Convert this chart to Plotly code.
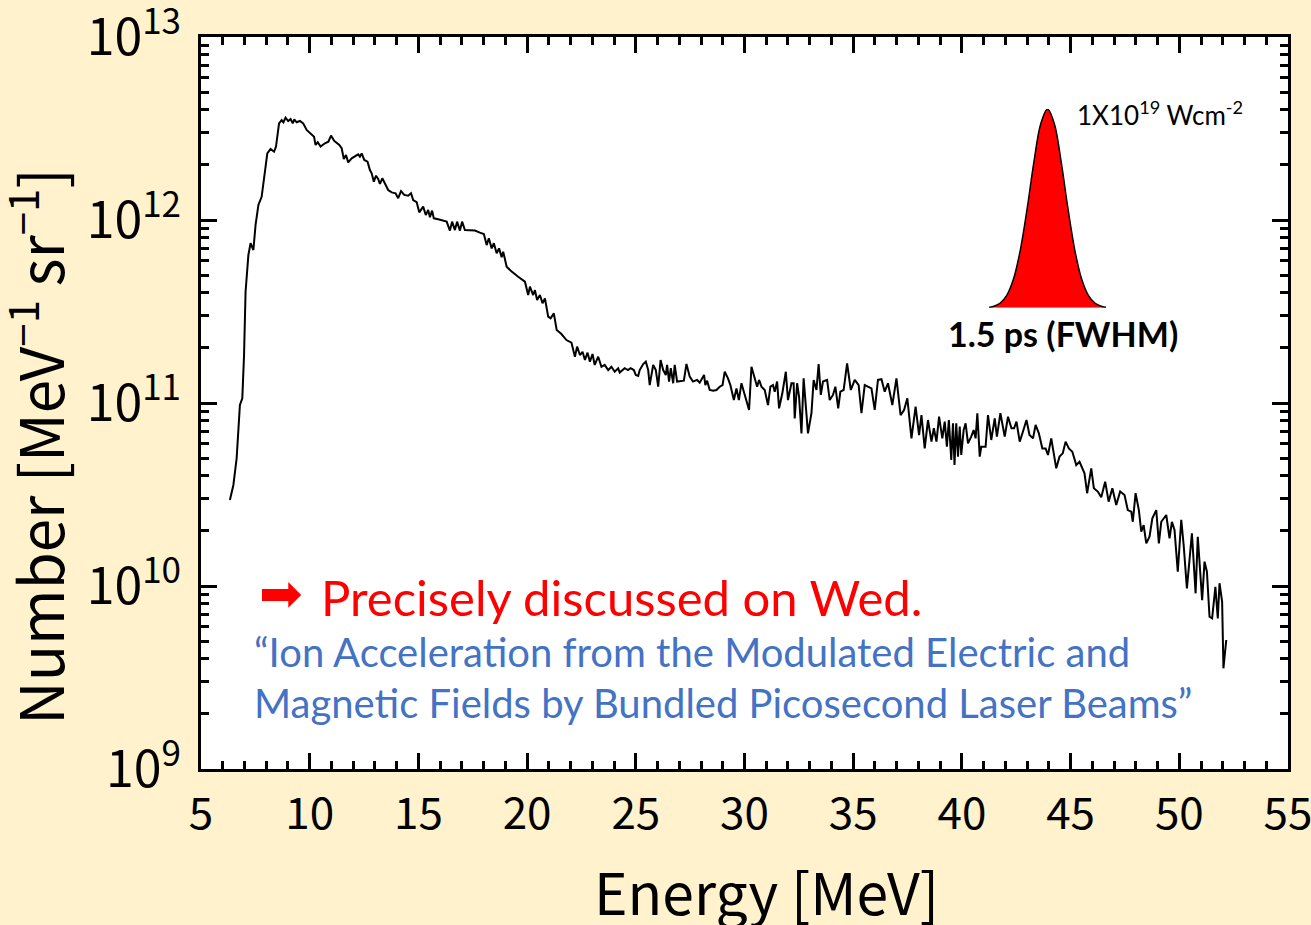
import plotly.graph_objects as go

# ---- spectrum data ----
energy_mev = [
    6.33, 6.49, 6.64, 6.79, 6.90, 6.98, 7.05, 7.18, 7.28, 7.41, 7.51, 7.64, 7.79, 7.91, 8.05, 8.20, 8.36, 8.45,
    8.59, 8.71, 8.79, 8.89, 9.01, 9.12, 9.22, 9.29, 9.40, 9.55, 9.70, 9.86, 10.06, 10.20, 10.27, 10.37, 10.50,
    10.70, 10.86, 10.98, 11.13, 11.36, 11.47, 11.57, 11.67, 11.77, 11.93, 12.11, 12.23, 12.31, 12.39, 12.51,
    12.66, 12.77, 12.85, 12.95, 13.05, 13.15, 13.23, 13.34, 13.46, 13.61, 13.77, 13.95, 14.07, 14.20, 14.35,
    14.53, 14.66, 14.76, 14.92, 15.04, 15.22, 15.34, 15.45, 15.53, 15.63, 15.71, 15.91, 16.14, 16.30, 16.45,
    16.55, 16.68, 16.78, 16.91, 17.01, 17.14, 17.37, 17.60, 17.83, 18.01, 18.14, 18.24, 18.37, 18.47, 18.60,
    18.71, 18.83, 18.90, 19.06, 19.29, 19.59, 19.90, 20.05, 20.13, 20.28, 20.36, 20.46, 20.59, 20.71, 20.82,
    20.97, 21.08, 21.23, 21.36, 21.58, 21.81, 22.04, 22.20, 22.30, 22.43, 22.55, 22.66, 22.78, 22.89, 23.01,
    23.11, 23.27, 23.42, 23.57, 23.73, 23.88, 24.03, 24.19, 24.26, 24.49, 24.64, 24.76, 24.91, 25.00, 25.11,
    25.18, 25.34, 25.46, 25.57, 25.64, 25.80, 25.92, 26.03, 26.14, 26.26, 26.38, 26.44, 26.53, 26.61, 26.72,
    26.79, 26.90, 27.10, 27.21, 27.33, 27.48, 27.63, 27.82, 27.94, 28.07, 28.14, 28.20, 28.28, 28.40, 28.56,
    28.71, 28.86, 28.99, 29.09, 29.24, 29.35, 29.51, 29.63, 29.74, 29.86, 29.97, 30.09, 30.21, 30.32, 30.47,
    30.58, 30.67, 30.78, 30.93, 31.01, 31.08, 31.19, 31.31, 31.39, 31.50, 31.59, 31.74, 31.90, 32.00, 32.16,
    32.26, 32.31, 32.42, 32.51, 32.62, 32.72, 32.92, 33.08, 33.18, 33.31, 33.41, 33.51, 33.61, 33.80, 33.92,
    34.07, 34.18, 34.31, 34.41, 34.56, 34.72, 34.89, 35.07, 35.25, 35.38, 35.53, 35.68, 35.84, 35.99, 36.14,
    36.30, 36.45, 36.60, 36.80, 36.99, 37.18, 37.34, 37.49, 37.68, 37.87, 38.03, 38.14, 38.29, 38.44, 38.60,
    38.71, 38.83, 38.95, 39.10, 39.21, 39.31, 39.40, 39.51, 39.59, 39.66, 39.74, 39.82, 39.90, 39.97, 40.08,
    40.17, 40.28, 40.43, 40.54, 40.63, 40.71, 40.82, 40.89, 41.09, 41.20, 41.35, 41.51, 41.61, 41.77, 41.97,
    42.12, 42.28, 42.40, 42.51, 42.66, 42.81, 42.97, 43.11, 43.27, 43.39, 43.54, 43.70, 43.85, 43.96, 44.11,
    44.34, 44.49, 44.64, 44.77, 44.92, 45.08, 45.26, 45.41, 45.64, 45.76, 45.95, 46.07, 46.25, 46.41, 46.59,
    46.75, 46.92, 47.10, 47.28, 47.48, 47.63, 47.79, 47.86, 47.99, 48.14, 48.25, 48.36, 48.48, 48.63, 48.76,
    48.94, 49.06, 49.17, 49.40, 49.55, 49.66, 49.78, 49.93, 50.09, 50.20, 50.35, 50.58, 50.75, 50.85, 51.05,
    51.16, 51.27, 51.39, 51.51, 51.66, 51.77, 51.85, 51.97, 52.03, 52.16,
]

log10_number = [
    10.470, 10.552, 10.698, 10.989, 11.026, 11.262, 11.608, 11.809, 11.873, 11.836, 11.973, 12.082, 12.127,
    12.246, 12.364, 12.388, 12.373, 12.401, 12.528, 12.546, 12.534, 12.559, 12.541, 12.552, 12.528, 12.550,
    12.534, 12.541, 12.528, 12.492, 12.468, 12.455, 12.410, 12.425, 12.401, 12.419, 12.428, 12.461, 12.432,
    12.410, 12.392, 12.333, 12.355, 12.315, 12.337, 12.351, 12.359, 12.346, 12.364, 12.328, 12.319, 12.273,
    12.255, 12.209, 12.242, 12.224, 12.197, 12.228, 12.195, 12.164, 12.151, 12.146, 12.119, 12.158, 12.137,
    12.133, 12.146, 12.109, 12.097, 12.042, 12.073, 12.027, 12.055, 12.015, 12.051, 12.009, 12.004, 11.996,
    11.991, 11.942, 11.991, 11.945, 11.991, 11.942, 11.991, 11.945, 11.945, 11.942, 11.931, 11.923, 11.863,
    11.900, 11.845, 11.873, 11.818, 11.845, 11.796, 11.827, 11.745, 11.718, 11.690, 11.663, 11.590, 11.636,
    11.590, 11.617, 11.563, 11.590, 11.545, 11.572, 11.472, 11.463, 11.490, 11.399, 11.377, 11.344, 11.330,
    11.253, 11.308, 11.262, 11.280, 11.235, 11.275, 11.226, 11.268, 11.208, 11.253, 11.198, 11.208, 11.180,
    11.198, 11.171, 11.190, 11.166, 11.190, 11.180, 11.190, 11.180, 11.153, 11.148, 11.180, 11.213, 11.226,
    11.180, 11.098, 11.208, 11.180, 11.089, 11.235, 11.180, 11.153, 11.208, 11.117, 11.190, 11.108, 11.208,
    11.117, 11.122, 11.122, 11.213, 11.144, 11.117, 11.126, 11.111, 11.135, 11.153, 11.098, 11.122, 11.071,
    11.067, 11.071, 11.089, 11.098, 11.171, 11.135, 11.098, 11.016, 11.080, 11.016, 11.108, 11.062, 11.007,
    10.962, 11.198, 11.135, 11.089, 11.126, 11.089, 11.071, 11.034, 10.989, 11.089, 11.098, 11.062, 11.117,
    10.971, 11.053, 11.171, 11.016, 11.108, 11.108, 10.916, 11.108, 11.034, 10.834, 11.135, 10.834, 10.944,
    11.126, 11.071, 11.213, 11.044, 11.117, 11.126, 11.016, 11.044, 11.089, 10.971, 11.062, 11.071, 11.217,
    11.071, 11.126, 11.098, 10.944, 11.098, 11.089, 11.080, 10.962, 11.126, 11.130, 11.062, 11.108, 10.989,
    11.135, 10.934, 10.962, 11.026, 10.807, 10.980, 10.825, 10.934, 10.752, 10.907, 10.789, 10.862, 10.789,
    10.925, 10.807, 10.898, 10.761, 10.907, 10.689, 10.889, 10.661, 10.889, 10.707, 10.871, 10.716, 10.852,
    10.889, 10.780, 10.816, 10.852, 10.807, 10.944, 10.707, 10.761, 10.761, 10.934, 10.798, 10.916, 10.816,
    10.944, 10.816, 10.925, 10.862, 10.862, 10.898, 10.789, 10.844, 10.907, 10.825, 10.807, 10.880, 10.834,
    10.752, 10.752, 10.716, 10.807, 10.643, 10.707, 10.725, 10.789, 10.752, 10.734, 10.661, 10.679, 10.616,
    10.507, 10.643, 10.534, 10.516, 10.485, 10.570, 10.461, 10.534, 10.443, 10.516, 10.497, 10.415, 10.406,
    10.351, 10.507, 10.415, 10.297, 10.333, 10.233, 10.269, 10.370, 10.415, 10.233, 10.351, 10.388, 10.261,
    10.351, 10.306, 10.078, 10.361, 10.224, 9.987, 10.288, 9.960, 10.269, 9.923, 10.133, 10.078, 9.832,
    9.823, 9.996, 9.823, 10.015, 9.914, 9.550, 9.705,
]
number_per_mev_sr = [10 ** v for v in log10_number]

# ---- laser pulse inset (normalised profile) ----
pulse_time_ps = [-2.15, -2.0, -1.75, -1.5, -1.25, -1.0, -0.75, -0.5, -0.25, 0.0,
                 0.25, 0.5, 0.75, 1.0, 1.25, 1.5, 1.75, 2.0, 2.15]
pulse_intensity = [0.003, 0.007, 0.023, 0.063, 0.146, 0.292, 0.5, 0.735, 0.926, 1.0,
                   0.926, 0.735, 0.5, 0.292, 0.146, 0.063, 0.023, 0.007, 0.003]

x_ticks = [5, 10, 15, 20, 25, 30, 35, 40, 45, 50, 55]

BG = "#FFF2CC"
AX_FONT = "Noto Sans CJK JP"
TXT_FONT = "Lato"

fig = go.Figure()
fig.add_trace(go.Scatter(
    x=energy_mev, y=number_per_mev_sr, mode="lines",
    line=dict(color="black", width=2), showlegend=False, hoverinfo="skip",
))
fig.add_trace(go.Scatter(
    x=pulse_time_ps, y=pulse_intensity, mode="lines", xaxis="x2", yaxis="y2",
    line=dict(color="black", width=1.5, shape="spline"), fill="tozeroy",
    fillcolor="#FF0000", showlegend=False, hoverinfo="skip",
))

axis_common = dict(
    showline=True, linecolor="black", linewidth=3, mirror="allticks",
    ticks="inside", ticklen=16, tickwidth=3, tickcolor="black",
    showgrid=False, zeroline=False, ticklabeloverflow="allow", automargin=False,
)

fig.update_layout(
    width=1311, height=925,
    margin=dict(l=201, r=23, t=37, b=156, pad=0, autoexpand=False),
    paper_bgcolor=BG, plot_bgcolor="white",
    xaxis=dict(
        **axis_common, range=[5, 55], tickvals=x_ticks,
        tickfont=dict(family=AX_FONT, size=44, color="black"),
        ticklabelstandoff=4,
        minor=dict(dtick=1, ticks="inside", ticklen=8, tickwidth=2.5, tickcolor="black"),
    ),
    yaxis=dict(
        **axis_common, type="log", range=[9, 13], dtick=1, exponentformat="power",
        tickfont=dict(family=AX_FONT, size=40, color="black"),
        ticklabelstandoff=9,
        minor=dict(dtick="D1", ticks="inside", ticklen=8, tickwidth=2.5, tickcolor="black", showgrid=False),
    ),
    xaxis2=dict(domain=[0.725, 0.8326], range=[-2.15, 2.15], anchor="y2", visible=False,
                showgrid=False, automargin=False),
    yaxis2=dict(domain=[0.630, 0.9016], range=[0, 1.0], anchor="x2", visible=False,
                showgrid=False, automargin=False),
)

annotations = [
    dict(text="Energy [MeV]", x=0.5198, y=-0.165, xanchor="center", yanchor="middle",
         font=dict(family=AX_FONT, size=57, color="black")),
    dict(text="Number [MeV<sup>\u22121</sup> sr<sup>\u22121</sup>]", x=-0.152, y=0.44,
         xanchor="center", yanchor="middle", textangle=-90,
         font=dict(family=AX_FONT, size=60, color="black")),
    dict(text="1X10<sup>19</sup> Wcm<sup>-2</sup>", x=0.804, y=0.896, xanchor="left", yanchor="middle",
         font=dict(family=TXT_FONT, size=26, color="black")),
    dict(text="<b>1.5 ps (FWHM)</b>", x=0.793, y=0.5956, xanchor="center", yanchor="middle",
         font=dict(family=TXT_FONT, size=34, color="black")),
    dict(text="\u27A1", x=0.0515, y=0.2404, xanchor="left", yanchor="middle",
         font=dict(family="DejaVu Sans", size=52, color="#FF0000")),
    dict(text="Precisely discussed on Wed.", x=0.1081, y=0.2350, xanchor="left", yanchor="middle",
         font=dict(family=TXT_FONT, size=49, color="#FF0000")),
    dict(text="\u201cIon Acceleration from the Modulated Electric and", x=0.0469, y=0.1598,
         xanchor="left", yanchor="middle", font=dict(family=TXT_FONT, size=40, color="#4472C4")),
    dict(text="Magnetic Fields by Bundled Picosecond Laser Beams\u201d", x=0.0469, y=0.0902,
         xanchor="left", yanchor="middle", font=dict(family=TXT_FONT, size=40, color="#4472C4")),
]
for a in annotations:
    a.update(xref="paper", yref="paper", showarrow=False)
fig.update_layout(annotations=annotations)

fig.write_html("out.html")
